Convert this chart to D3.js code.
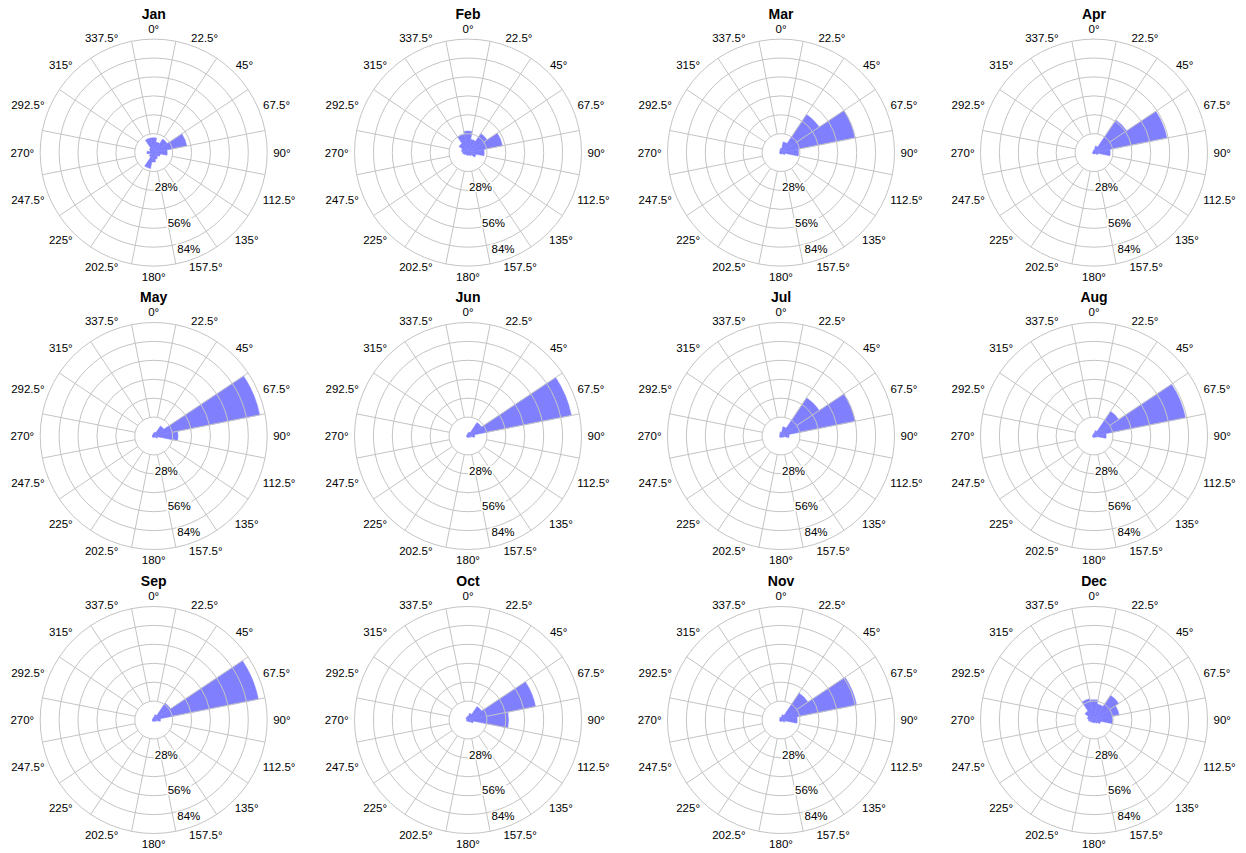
<!DOCTYPE html>
<html><head><meta charset="utf-8">
<script src="https://cdn.jsdelivr.net/npm/d3@7"></script>
<style>body{margin:0;background:#fff}svg{display:block}</style>
</head><body><svg id="c" width="1246" height="853"></svg>
<script>
const months = ["Jan","Feb","Mar","Apr","May","Jun","Jul","Aug","Sep","Oct","Nov","Dec"];
const directions = [0,22.5,45,67.5,90,112.5,135,157.5,180,202.5,225,247.5,270,292.5,315,337.5];
const directionLabels = ["0°","22.5°","45°","67.5°","90°","112.5°","135°","157.5°","180°","202.5°","225°","247.5°","270°","292.5°","315°","337.5°"];
const ringTicks = [14,28,42,56,70,84];
const ringLabelTicks = [28,56,84];
const ringLabelText = ["28%","56%","84%"];

// percent of observations per direction (0°, 22.5°, ... 337.5°)
const jan = [11,8,12,25,10,5,4,5,7,12,4,3,5,3,4,11];
const feb = [16,10,17,26,12,6,3,2,2,2,2,3,4,5,8,14];
const mar = [3,8,34,56,13,3,1,1,1,1,1,1,1,1,1,2];
const apr = [2,5,29,55,12,3,1,1,1,1,1,1,1,1,1,1];
const may = [2,3,9,80,18,3,1,1,1,1,1,1,1,1,1,1];
const jun = [2,3,12,78,5,2,1,1,1,1,1,1,1,1,1,1];
const jul = [3,7,34,56,6,2,1,1,1,1,1,1,1,1,1,2];
const aug = [2,4,22,69,9,2,1,1,1,1,1,1,1,1,1,1];
const sep = [2,4,15,79,5,2,1,1,1,1,1,1,1,1,1,1];
const oct = [3,5,12,51,30,4,2,1,1,1,1,1,1,1,2,2];
const nov = [2,4,24,57,12,3,1,1,1,1,1,1,1,1,1,2];
const dec = [15,12,22,19,14,5,3,2,2,2,2,3,4,5,8,16];
const monthValues = [jan,feb,mar,apr,may,jun,jul,aug,sep,oct,nov,dec];

const colCenters = [153.7,468,781,1094];
const rowCenters = [152.6,436,720];
const R = 113.5;
const sectorWidth = 22.5;

const svg = d3.select("#c");
svg.append("rect").attr("width",1246).attr("height",853).attr("fill","#fff");

const r = d3.scaleLinear().domain([0,84]).range([0,R]);
const ang = d3.scaleLinear().domain([0,360]).range([0,2*Math.PI]);
const gridColor = "#c4c4c4";
const barColor = "#8080ff";
const font = "'Liberation Sans', Arial, sans-serif";
const fs = 11.5;

const arc = d3.arc()
  .innerRadius(0)
  .outerRadius(d => r(d.v))
  .startAngle(d => ang(d.dir - sectorWidth/2))
  .endAngle(d => ang(d.dir + sectorWidth/2));

months.forEach((m, i) => {
  const cx = colCenters[i % 4], cy = rowCenters[Math.floor(i / 4)];
  const g = svg.append("g").attr("transform", `translate(${cx},${cy})`);
  const data = directions.map((dir, k) => ({dir, v: monthValues[i][k]}));

  g.selectAll("path.bar").data(data).join("path")
    .attr("class","bar")
    .attr("d", arc)
    .attr("fill", barColor)
    .attr("stroke", barColor)
    .attr("stroke-width", 0.5);

  g.selectAll("circle.ring").data(ringTicks).join("circle")
    .attr("class","ring")
    .attr("r", d => r(d))
    .attr("fill","none")
    .attr("stroke", gridColor)
    .attr("stroke-width", 1);

  g.selectAll("line.spoke").data(directions).join("line")
    .attr("class","spoke")
    .attr("x1", d => r(ringTicks[0]) * Math.sin(ang(d + sectorWidth/2)))
    .attr("y1", d => -r(ringTicks[0]) * Math.cos(ang(d + sectorWidth/2)))
    .attr("x2", d => R * Math.sin(ang(d + sectorWidth/2)))
    .attr("y2", d => -R * Math.cos(ang(d + sectorWidth/2)))
    .attr("stroke", gridColor)
    .attr("stroke-width", 1);

  const lab = g.selectAll("text.dir").data(directions).join("text")
    .attr("class","dir")
    .attr("font-family", font)
    .attr("font-size", fs)
    .attr("fill","#000")
    .attr("text-anchor","middle")
    .attr("dominant-baseline","central")
    .text((d,k) => directionLabels[k]);
  lab.each(function(d){
    const w = this.getComputedTextLength();
    const a = ang(d);
    const rr = R + 6;
    const x = rr*Math.sin(a) + Math.sin(a)*w/2;
    const y = -rr*Math.cos(a) - Math.cos(a)*4.5;
    d3.select(this).attr("x", x).attr("y", y);
  });

  const la = ang(160);
  ringLabelTicks.forEach((t, k) => {
    const rr = Math.min(r(t), R - 10) - 1;
    const x = rr*Math.sin(la), y = -rr*Math.cos(la);
    const tg = g.append("g");
    const tx = tg.append("text")
      .attr("x", x).attr("y", y)
      .attr("font-family", font).attr("font-size", fs)
      .attr("text-anchor","middle").attr("dominant-baseline","central")
      .attr("fill","#000")
      .text(ringLabelText[k]);
    const bb = tx.node().getBBox();
    tg.insert("rect","text")
      .attr("x", bb.x-1).attr("y", bb.y+1)
      .attr("width", bb.width+2).attr("height", bb.height-2)
      .attr("fill","#fff");
  });

  g.append("text")
    .attr("x", 0).attr("y", -138.6)
    .attr("font-family", font).attr("font-size", 14).attr("font-weight","bold")
    .attr("text-anchor","middle").attr("dominant-baseline","central")
    .attr("fill","#000")
    .text(m);
});
</script>
</body></html>
